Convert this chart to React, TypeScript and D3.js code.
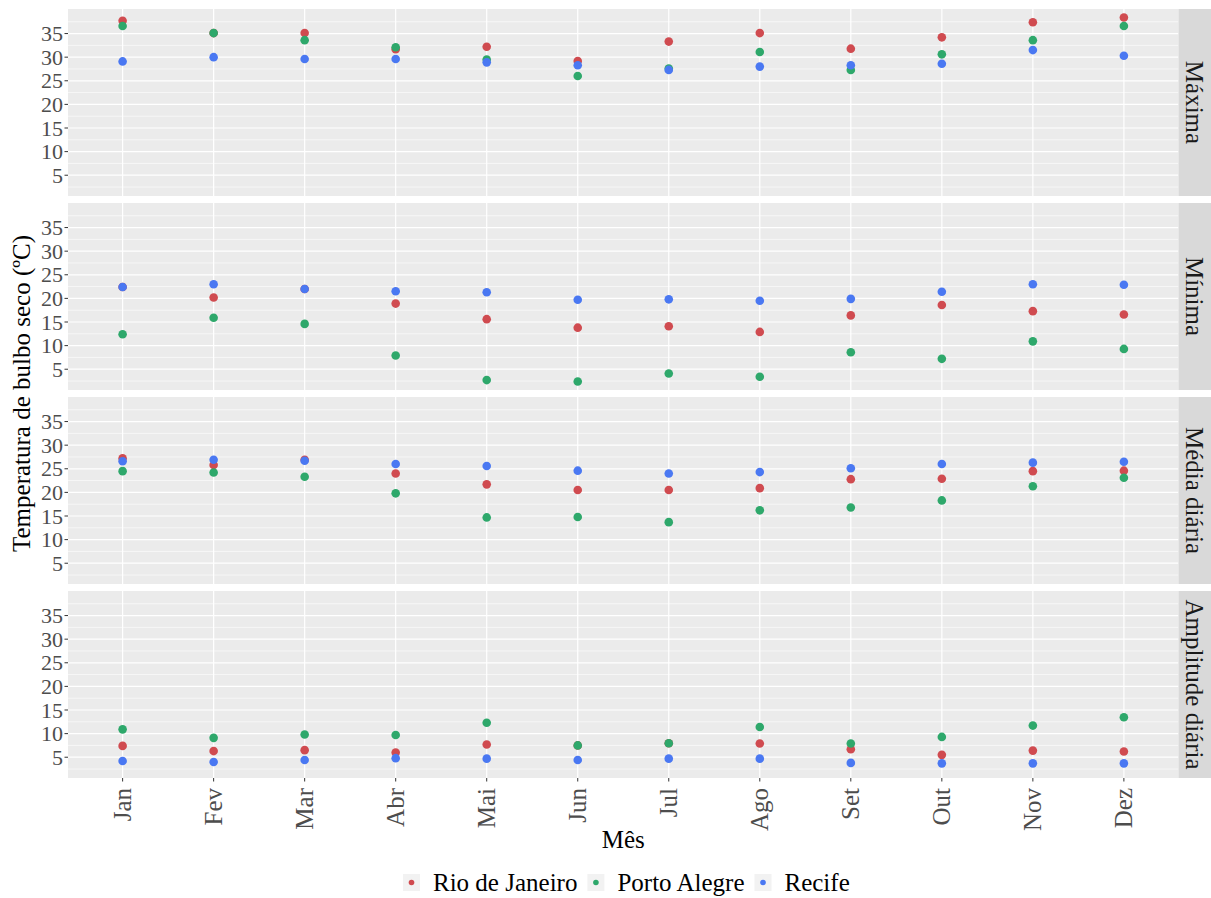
import React, { useEffect, useRef } from "react";
import * as d3 from "d3";

const months = ["Jan", "Fev", "Mar", "Abr", "Mai", "Jun", "Jul", "Ago", "Set", "Out", "Nov", "Dez"];
const facets = ["Máxima", "Mínima", "Média diária", "Amplitude diária"];
const cities = ["Rio de Janeiro", "Porto Alegre", "Recife"];
const cityColors = ["#d04b50", "#2ea86b", "#4a78f2"];

// Máxima
const maxRio = [37.7, 35.1, 35.1, 31.7, 32.2, 29.2, 33.3, 35.1, 31.8, 34.2, 37.4, 38.4];
const maxPoa = [36.6, 35.1, 33.6, 32.1, 29.5, 26.0, 27.6, 31.1, 27.3, 30.6, 33.6, 36.6];
const maxRec = [29.1, 30.0, 29.6, 29.6, 28.9, 28.3, 27.3, 28.0, 28.3, 28.6, 31.5, 30.3];
// Mínima
const minRio = [22.4, 20.2, 22.0, 18.9, 15.6, 13.8, 14.1, 12.9, 16.4, 18.6, 17.3, 16.6];
const minPoa = [12.4, 15.9, 14.6, 7.9, 2.7, 2.4, 4.1, 3.4, 8.6, 7.2, 10.9, 9.3];
const minRec = [22.4, 23.0, 22.0, 21.5, 21.3, 19.7, 19.8, 19.5, 19.9, 21.4, 23.0, 22.9];
// Média diária
const medRio = [27.2, 25.8, 26.9, 24.0, 21.7, 20.5, 20.5, 20.9, 22.8, 22.9, 24.5, 24.6];
const medPoa = [24.5, 24.2, 23.3, 19.8, 14.7, 14.8, 13.7, 16.2, 16.8, 18.3, 21.3, 23.1];
const medRec = [26.6, 26.9, 26.7, 26.0, 25.6, 24.6, 24.0, 24.3, 25.1, 26.0, 26.3, 26.5];
// Amplitude diária
const ampRio = [7.4, 6.3, 6.5, 6.0, 7.7, 7.5, 7.95, 7.9, 6.7, 5.5, 6.4, 6.2];
const ampPoa = [10.9, 9.1, 9.8, 9.7, 12.3, 7.5, 7.95, 11.4, 7.9, 9.3, 11.7, 13.45];
const ampRec = [4.2, 4.0, 4.4, 4.8, 4.7, 4.4, 4.7, 4.7, 3.8, 3.7, 3.7, 3.7];

const facetSeries = [
  [maxRio, maxPoa, maxRec],
  [minRio, minPoa, minRec],
  [medRio, medPoa, medRec],
  [ampRio, ampPoa, ampRec],
];

const yTicks = [5, 10, 15, 20, 25, 30, 35];
const yTitle = "Temperatura de bulbo seco (ºC)";
const xTitle = "Mês";

const W = 1211;
const H = 898;
const FONT = "'Liberation Serif', 'Times New Roman', serif";

export default function App() {
  const ref = useRef<SVGSVGElement | null>(null);

  useEffect(() => {
    const svg = d3.select(ref.current);
    svg.selectAll("*").remove();

    const panelLeft = 68;
    const panelRight = 1178.5;
    const stripRight = 1211;
    const panelTop0 = 9;
    const panelH = 187;
    const panelStep = 194;

    const all = facetSeries.flat(2);
    const lo = d3.min(all) as number;
    const hi = d3.max(all) as number;
    const pad = (hi - lo) * 0.05;

    const x = d3.scalePoint<string>().domain(months).range([panelLeft, panelRight]).padding(0.6);

    facets.forEach((facet, fi) => {
      const top = panelTop0 + fi * panelStep;
      const bottom = top + panelH;
      const y = d3.scaleLinear().domain([lo - pad, hi + pad]).range([bottom, top]);
      const g = svg.append("g");

      g.append("rect")
        .attr("x", panelLeft).attr("y", top)
        .attr("width", panelRight - panelLeft).attr("height", panelH)
        .attr("fill", "#EBEBEB");

      const minor = d3.range(2.5, 40, 5).filter((v) => v >= lo - pad && v <= hi + pad);
      g.selectAll(".minor").data(minor).enter().append("line")
        .attr("x1", panelLeft).attr("x2", panelRight)
        .attr("y1", (d) => y(d)).attr("y2", (d) => y(d))
        .attr("stroke", "#FFFFFF").attr("stroke-width", 0.6);
      g.selectAll(".major").data(yTicks).enter().append("line")
        .attr("x1", panelLeft).attr("x2", panelRight)
        .attr("y1", (d) => y(d)).attr("y2", (d) => y(d))
        .attr("stroke", "#FFFFFF").attr("stroke-width", 1.2);
      g.selectAll(".vmajor").data(months).enter().append("line")
        .attr("x1", (d) => x(d) as number).attr("x2", (d) => x(d) as number)
        .attr("y1", top).attr("y2", bottom)
        .attr("stroke", "#FFFFFF").attr("stroke-width", 1.2);

      // y axis ticks
      g.selectAll(".ytick").data(yTicks).enter().append("line")
        .attr("x1", panelLeft - 3.5).attr("x2", panelLeft)
        .attr("y1", (d) => y(d)).attr("y2", (d) => y(d))
        .attr("stroke", "#333333").attr("stroke-width", 1);
      g.selectAll(".ylab").data(yTicks).enter().append("text")
        .attr("x", panelLeft - 5).attr("y", (d) => y(d))
        .attr("text-anchor", "end").attr("dominant-baseline", "central")
        .attr("font-family", FONT).attr("font-size", 22).attr("fill", "#4D4D4D")
        .text((d) => String(d));

      // points
      facetSeries[fi].forEach((vals, ci) => {
        g.selectAll(".pt" + ci).data(vals).enter().append("circle")
          .attr("cx", (_d, i) => x(months[i]) as number)
          .attr("cy", (d) => y(d))
          .attr("r", 4.3)
          .attr("fill", cityColors[ci]);
      });

      // strip
      g.append("rect")
        .attr("x", panelRight).attr("y", top)
        .attr("width", stripRight - panelRight).attr("height", panelH)
        .attr("fill", "#D9D9D9");
      const sx = (panelRight + stripRight) / 2;
      const sy = (top + bottom) / 2;
      g.append("text")
        .attr("transform", `translate(${sx},${sy}) rotate(90)`)
        .attr("text-anchor", "middle").attr("dominant-baseline", "central")
        .attr("font-family", FONT).attr("font-size", 25).attr("fill", "#1A1A1A")
        .text(facet);

      if (fi === facets.length - 1) {
        g.selectAll(".xtick").data(months).enter().append("line")
          .attr("x1", (d) => x(d) as number).attr("x2", (d) => x(d) as number)
          .attr("y1", bottom).attr("y2", bottom + 3.5)
          .attr("stroke", "#333333").attr("stroke-width", 1);
        g.selectAll(".xlab").data(months).enter().append("text")
          .attr("transform", (d) => `translate(${x(d)},${bottom + 10}) rotate(-90)`)
          .attr("text-anchor", "end").attr("dominant-baseline", "central")
          .attr("font-family", FONT).attr("font-size", 25).attr("fill", "#4D4D4D")
          .text((d) => d);
      }
    });

    const panelsBottom = panelTop0 + 3 * panelStep + panelH;
    // axis titles
    svg.append("text")
      .attr("x", (panelLeft + panelRight) / 2).attr("y", 848)
      .attr("text-anchor", "middle")
      .attr("font-family", FONT).attr("font-size", 25).attr("fill", "#000")
      .text(xTitle);
    svg.append("text")
      .attr("transform", `translate(30,${(panelTop0 + panelsBottom) / 2}) rotate(-90)`)
      .attr("text-anchor", "middle")
      .attr("font-family", FONT).attr("font-size", 25).attr("fill", "#000")
      .text(yTitle);

    // legend
    const leg = svg.append("g");
    const keySize = 17;
    const legY = 874;
    let cx = 403;
    cities.forEach((c, i) => {
      leg.append("rect")
        .attr("x", cx).attr("y", legY).attr("width", keySize).attr("height", keySize)
        .attr("fill", "#F2F2F2");
      leg.append("circle")
        .attr("cx", cx + keySize / 2).attr("cy", legY + keySize / 2).attr("r", 2.8)
        .attr("fill", cityColors[i]);
      const t = leg.append("text")
        .attr("x", cx + 30).attr("y", legY + keySize / 2)
        .attr("dominant-baseline", "central")
        .attr("font-family", FONT).attr("font-size", 25).attr("fill", "#000")
        .text(c);
      const w = (t.node() as SVGTextElement).getComputedTextLength();
      cx = cx + 30 + w + 10;
    });
  }, []);

  return (
    <svg
      ref={ref}
      width={W}
      height={H}
      style={{ position: "absolute", left: 0, top: 0, background: "#fff" }}
    />
  );
}
